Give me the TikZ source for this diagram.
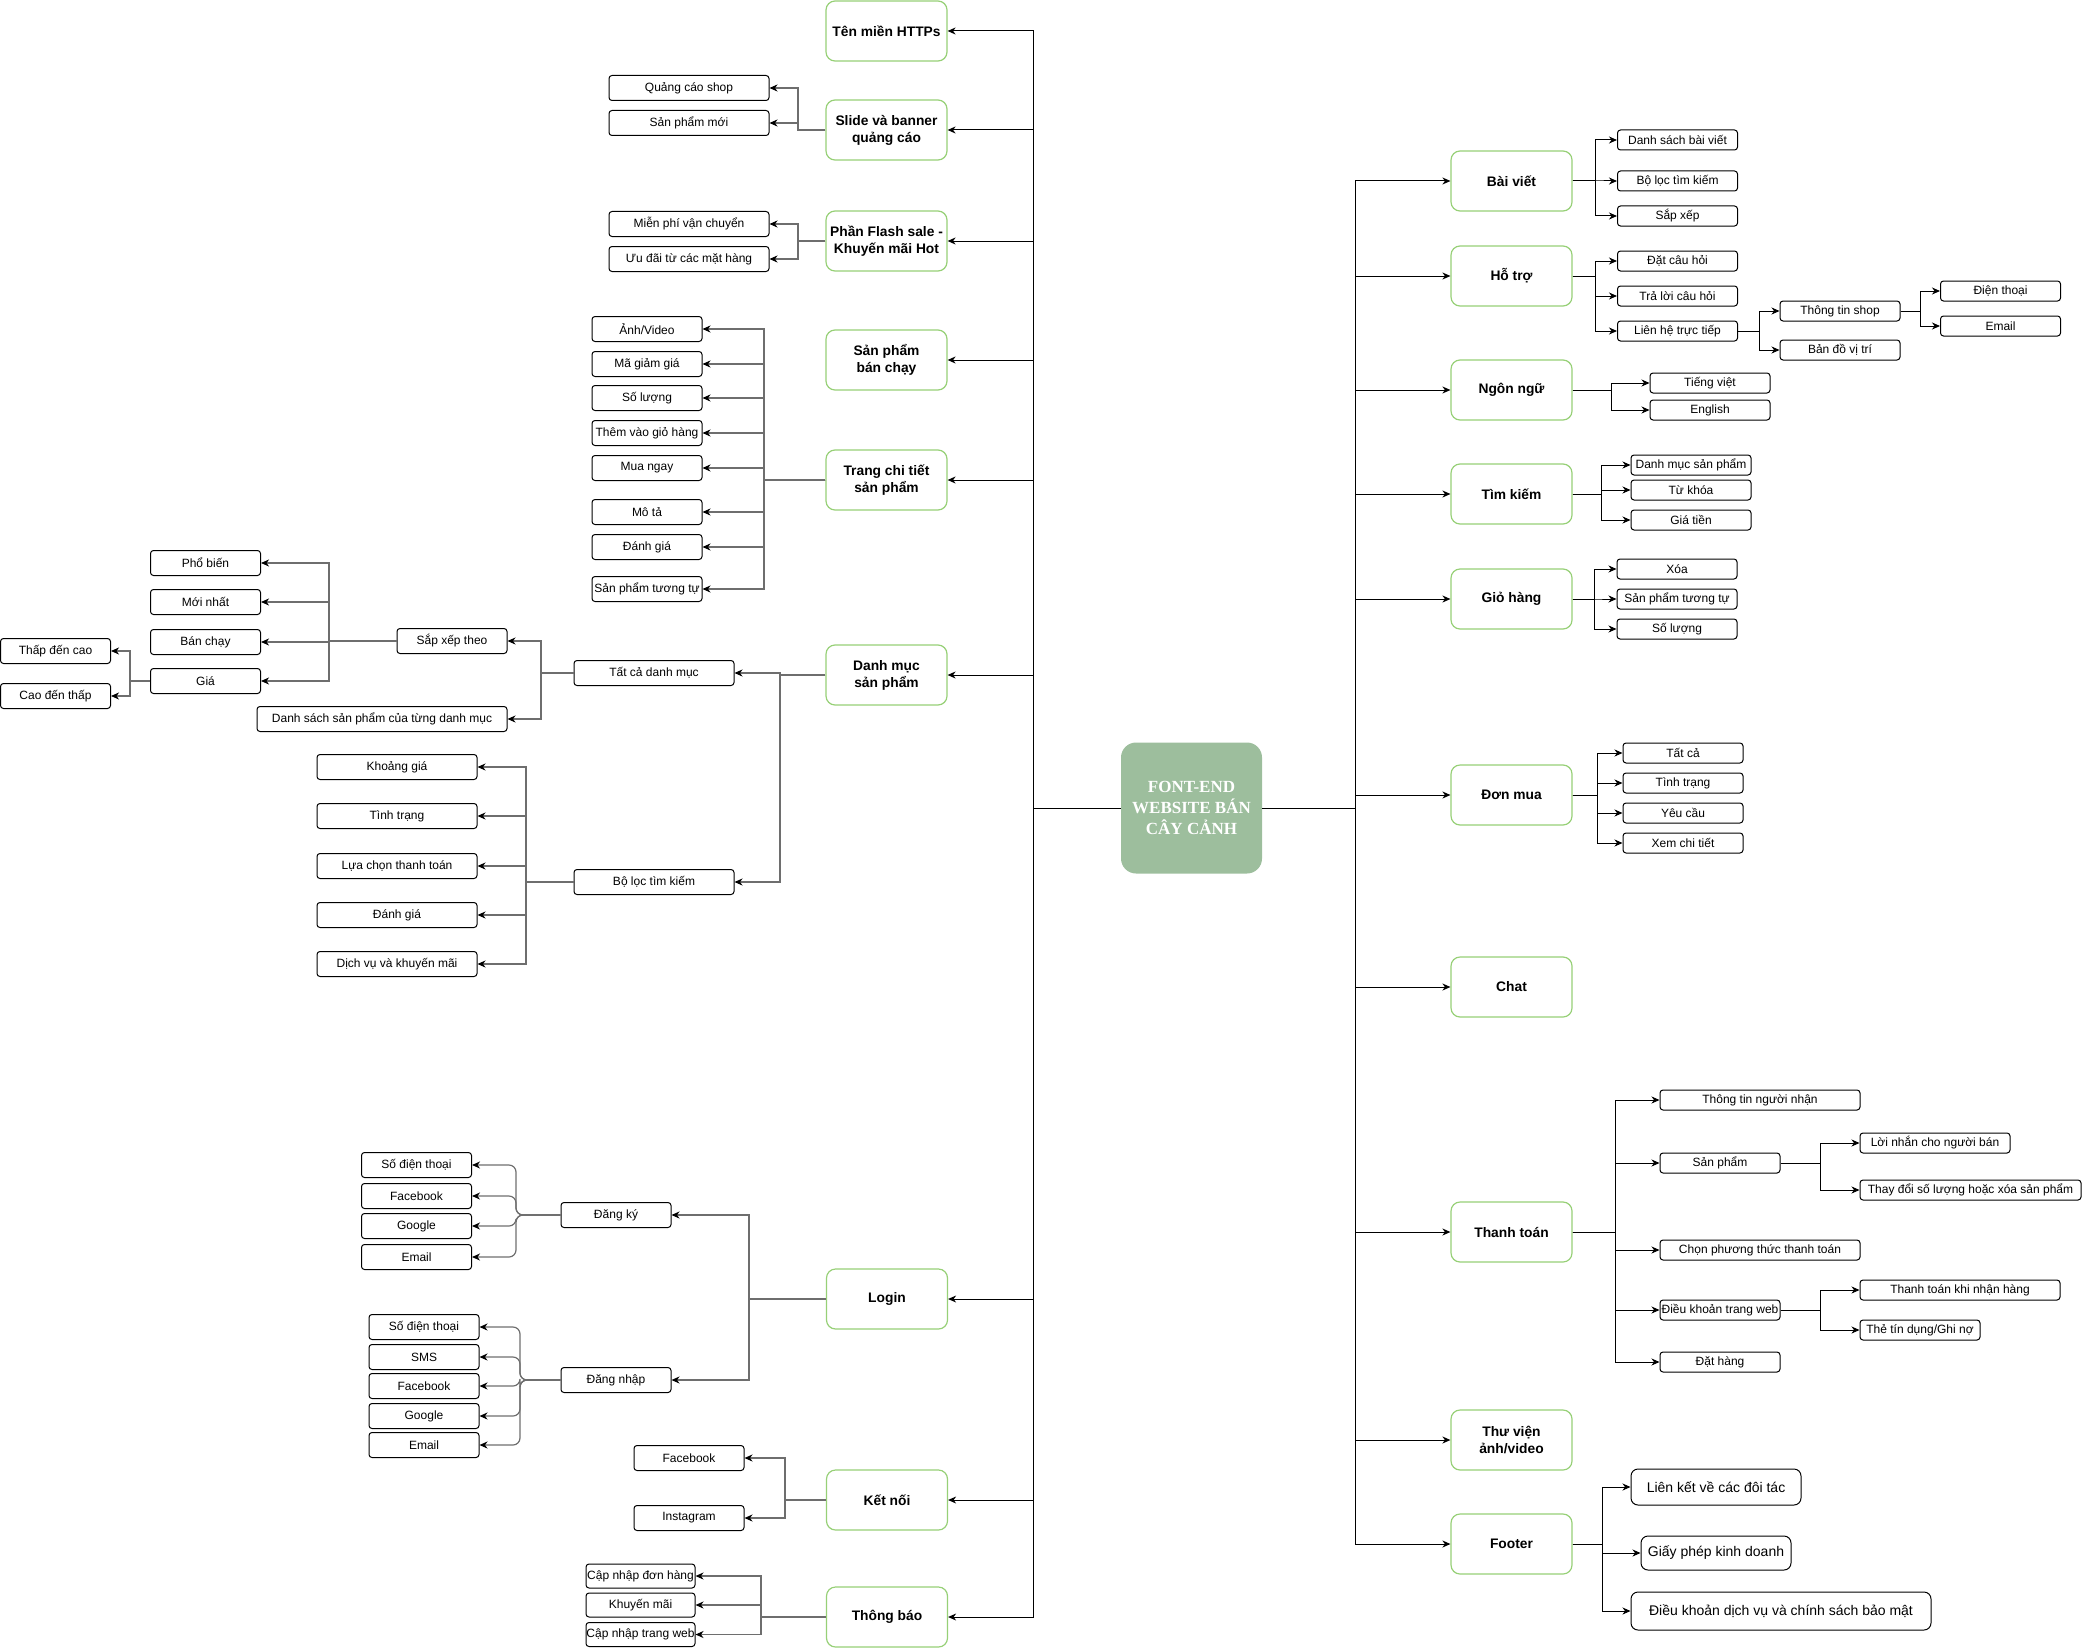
\documentclass[tikz,border=0pt]{standalone}
\usepackage{fontspec}
\setmainfont{Liberation Sans}
\newfontfamily\rootfont{Liberation Serif}
\usetikzlibrary{arrows.meta}
\definecolor{hdrgreen}{HTML}{97D077}
\definecolor{rootfill}{HTML}{9DBE9D}
\definecolor{edgegrey}{HTML}{6E6E6E}
\tikzset{
 hdr/.style={draw=hdrgreen, line width=1.2pt, rounded corners=9pt, fill=white, minimum width=121pt, minimum height=60pt, inner sep=0pt, align=center, font=\fontsize{13.8}{17}\selectfont\bfseries},
 leaf/.style={draw=black, line width=1pt, rounded corners=3pt, fill=white, minimum height=25pt, inner sep=0pt, font=\fontsize{12}{14}\selectfont},
 rleaf/.style={leaf, minimum height=20pt, minimum width=120pt},
 fleaf/.style={leaf, rounded corners=7pt, font=\fontsize{14}{16}\selectfont},
 rootbox/.style={draw=none, fill=rootfill, rounded corners=15pt, minimum width=141pt, minimum height=131pt, inner sep=0pt, align=center, text=white, font=\rootfont\bfseries\fontsize{17}{21}\selectfont},
 plain/.style={draw=black, line width=1pt},
 arr/.style={draw=black, line width=1pt, -{Stealth[length=8pt,width=7pt,inset=2.5pt]}},
 garr/.style={draw=edgegrey, line width=1.2pt, -{Stealth[length=8pt,width=7pt,inset=2.5pt,color=black]}},
}
\begin{document}
\begin{tikzpicture}[x=1pt,y=-1pt]
\useasboundingbox (0,0) rectangle (2082,1648);

% ---------- root ----------
\node[rootbox] (root) at (1191.5,808) {FONT-END\\WEBSITE BÁN\\CÂY CẢNH};
\coordinate (LT) at (1033,808);
\coordinate (RT) at (1355,808);
\draw[plain] (root.west) -- (LT);
\draw[plain] (root.east) -- (RT);

% ---------- left headers ----------
\node[hdr] (ten)   at (886.5,31)   {Tên miền HTTPs};
\node[hdr] (slide) at (886.5,130)  {Slide và banner\\quảng cáo};
\node[hdr] (flash) at (886.5,241)  {Phần Flash sale -\\Khuyến mãi Hot};
\node[hdr] (spbc)  at (886.5,360)  {Sản phẩm\\bán chạy};
\node[hdr] (tct)   at (886.5,480)  {Trang chi tiết\\sản phẩm};
\node[hdr] (dm)    at (886.5,675)  {Danh mục\\sản phẩm};
\node[hdr] (login) at (887,1299)   {Login};
\node[hdr] (kn)    at (887,1500)   {Kết nối};
\node[hdr] (tbao)  at (887,1617)   {Thông báo};
\foreach \h in {ten,slide,flash,spbc,tct,dm,login,kn,tbao}
  \draw[arr] (LT) |- (\h.east);

% ---------- right headers ----------
\node[hdr] (bv)     at (1511.5,181)  {Bài viết};
\node[hdr] (ht)     at (1511.5,276)  {Hỗ trợ};
\node[hdr] (nn)     at (1511.5,390)  {Ngôn ngữ};
\node[hdr] (timk)   at (1511.5,494)  {Tìm kiếm};
\node[hdr] (gh)     at (1511.5,599)  {Giỏ hàng};
\node[hdr] (dmua)   at (1511.5,795)  {Đơn mua};
\node[hdr] (chat)   at (1511.5,987)  {Chat};
\node[hdr] (ttoan)  at (1511.5,1232) {Thanh toán};
\node[hdr] (tvien)  at (1511.5,1440) {Thư viện\\ảnh/video};
\node[hdr] (footer) at (1511.5,1544) {Footer};
\foreach \h in {bv,ht,nn,timk,gh,dmua,chat,ttoan,tvien,footer}
  \draw[arr] (RT) |- (\h.west);

% ---------- Slide ----------
\node[leaf, minimum width=160pt] (qc)  at (689,88)  {Quảng cáo shop};
\node[leaf, minimum width=160pt] (spm) at (689,123) {Sản phẩm mới};
\coordinate (jslide) at (798,130);
\foreach \c in {qc,spm} \draw[garr] (slide.west) -- (jslide) |- (\c.east);

% ---------- Flash sale ----------
\node[leaf, minimum width=160pt] (mp) at (689,224) {Miễn phí vận chuyển};
\node[leaf, minimum width=160pt] (ud) at (689,259) {Ưu đãi từ các mặt hàng};
\coordinate (jflash) at (798,241);
\foreach \c in {mp,ud} \draw[garr] (flash.west) -- (jflash) |- (\c.east);

% ---------- Trang chi tiet ----------
\node[leaf, minimum width=110pt] (av)   at (647,329) {Ảnh/Video};
\node[leaf, minimum width=110pt] (mg)   at (647,364) {Mã giảm giá};
\node[leaf, minimum width=110pt] (sl)   at (647,398) {Số lượng};
\node[leaf, minimum width=110pt] (tvg)  at (647,433) {Thêm vào giỏ hàng};
\node[leaf, minimum width=110pt] (mn)   at (647,468) {Mua ngay};
\node[leaf, minimum width=110pt] (mt)   at (647,512) {Mô tả};
\node[leaf, minimum width=110pt] (dg)   at (647,547) {Đánh giá};
\node[leaf, minimum width=110pt] (sptt) at (647,589) {Sản phẩm tương tự};
\coordinate (jtct) at (764,480);
\foreach \c in {av,mg,sl,tvg,mn,mt,dg,sptt} \draw[garr] (tct.west) -- (jtct) |- (\c.east);

% ---------- Danh muc ----------
\node[leaf, minimum width=160pt] (tc) at (654,673) {Tất cả danh mục};
\node[leaf, minimum width=160pt] (bl) at (654,882) {Bộ lọc tìm kiếm};
\coordinate (jdm) at (780,675);
\foreach \c in {tc,bl} \draw[garr] (dm.west) -- (jdm) |- (\c.east);

\node[leaf, minimum width=110pt] (sx) at (452,641) {Sắp xếp theo};
\node[leaf, minimum width=250pt] (ds) at (382,719) {Danh sách sản phẩm của từng danh mục};
\coordinate (jtc) at (541,673);
\foreach \c in {sx,ds} \draw[garr] (tc.west) -- (jtc) |- (\c.east);

\node[leaf, minimum width=110pt] (pb)  at (205.5,563) {Phổ biến};
\node[leaf, minimum width=110pt] (mnh) at (205.5,602) {Mới nhất};
\node[leaf, minimum width=110pt] (bc)  at (205.5,642) {Bán chạy};
\node[leaf, minimum width=110pt] (gia) at (205.5,681) {Giá};
\coordinate (jsx) at (329,641);
\foreach \c in {pb,mnh,bc,gia} \draw[garr] (sx.west) -- (jsx) |- (\c.east);

\node[leaf, minimum width=110pt] (tdc) at (55.5,651) {Thấp đến cao};
\node[leaf, minimum width=110pt] (cdt) at (55.5,696) {Cao đến thấp};
\coordinate (jgia) at (130,681);
\foreach \c in {tdc,cdt} \draw[garr] (gia.west) -- (jgia) |- (\c.east);

\node[leaf, minimum width=160pt] (kg)  at (397,767) {Khoảng giá};
\node[leaf, minimum width=160pt] (ttr) at (397,816) {Tình trạng};
\node[leaf, minimum width=160pt] (lc)  at (397,866) {Lựa chọn thanh toán};
\node[leaf, minimum width=160pt] (dgb) at (397,915) {Đánh giá};
\node[leaf, minimum width=160pt] (dv)  at (397,964) {Dịch vụ và khuyến mãi};
\coordinate (jbl) at (526,882);
\foreach \c in {kg,ttr,lc,dgb,dv} \draw[garr] (bl.west) -- (jbl) |- (\c.east);

% ---------- Login ----------
\node[leaf, minimum width=110pt] (dk) at (616,1215) {Đăng ký};
\node[leaf, minimum width=110pt] (dn) at (616,1380) {Đăng nhập};
\coordinate (jlogin) at (749,1299);
\foreach \c in {dk,dn} \draw[garr] (login.west) -- (jlogin) |- (\c.east);

\node[leaf, minimum width=110pt] (dka) at (416.5,1165) {Số điện thoại};
\node[leaf, minimum width=110pt] (dkb) at (416.5,1196) {Facebook};
\node[leaf, minimum width=110pt] (dkc) at (416.5,1226) {Google};
\node[leaf, minimum width=110pt] (dkd) at (416.5,1257) {Email};
\coordinate (jdk) at (516,1215);
\foreach \c in {dka,dkb,dkc,dkd} \draw[garr, rounded corners=7pt] (dk.west) -- (jdk) |- (\c.east);

\node[leaf, minimum width=110pt] (dna) at (424,1327) {Số điện thoại};
\node[leaf, minimum width=110pt] (dnb) at (424,1357) {SMS};
\node[leaf, minimum width=110pt] (dnc) at (424,1386) {Facebook};
\node[leaf, minimum width=110pt] (dnd) at (424,1416) {Google};
\node[leaf, minimum width=110pt] (dne) at (424,1445) {Email};
\coordinate (jdn) at (520,1380);
\foreach \c in {dna,dnb,dnc,dnd,dne} \draw[garr, rounded corners=7pt] (dn.west) -- (jdn) |- (\c.east);

% ---------- Ket noi ----------
\node[leaf, minimum width=110pt] (fb) at (689,1458) {Facebook};
\node[leaf, minimum width=110pt] (ig) at (689,1518) {Instagram};
\coordinate (jkn) at (785,1500);
\foreach \c in {fb,ig} \draw[garr] (kn.west) -- (jkn) |- (\c.east);

% ---------- Thong bao ----------
\node[leaf, minimum width=109pt, minimum height=24pt] (tba) at (640.5,1576) {Cập nhập đơn hàng};
\node[leaf, minimum width=109pt, minimum height=24pt] (tbb) at (640.5,1605) {Khuyến mãi};
\node[leaf, minimum width=109pt, minimum height=24pt] (tbc) at (640.5,1634.5) {Cập nhập trang web};
\coordinate (jtb) at (761,1617);
\foreach \c in {tba,tbb,tbc} \draw[garr] (tbao.west) -- (jtb) |- (\c.east);

% ---------- Bai viet ----------
\node[rleaf] (bva) at (1677.5,140) {Danh sách bài viết};
\node[rleaf] (bvb) at (1677.5,181) {Bộ lọc tìm kiếm};
\node[rleaf] (bvc) at (1677.5,216) {Sắp xếp};
\coordinate (jbv) at (1595,181);
\foreach \c in {bva,bvb,bvc} \draw[arr] (bv.east) -- (jbv) |- (\c.west);

% ---------- Ho tro ----------
\node[rleaf] (hta) at (1677.5,261) {Đặt câu hỏi};
\node[rleaf] (htb) at (1677.5,296) {Trả lời câu hỏi};
\node[rleaf] (htc) at (1677.5,331) {Liên hệ trực tiếp};
\coordinate (jht) at (1595,276);
\foreach \c in {hta,htb,htc} \draw[arr] (ht.east) -- (jht) |- (\c.west);

\node[rleaf] (ts) at (1840,311) {Thông tin shop};
\node[rleaf] (bd) at (1840,350) {Bản đồ vị trí};
\coordinate (jlh) at (1759,331);
\foreach \c in {ts,bd} \draw[arr] (htc.east) -- (jlh) |- (\c.west);

\node[rleaf] (dt)  at (2000.5,291) {Điện thoại};
\node[rleaf] (eml) at (2000.5,326) {Email};
\coordinate (jts) at (1920,311);
\foreach \c in {dt,eml} \draw[arr] (ts.east) -- (jts) |- (\c.west);

% ---------- Ngon ngu ----------
\node[rleaf] (tviet) at (1710,383) {Tiếng việt};
\node[rleaf] (eng)   at (1710,410) {English};
\coordinate (jnn) at (1611,390);
\foreach \c in {tviet,eng} \draw[arr] (nn.east) -- (jnn) |- (\c.west);

% ---------- Tim kiem ----------
\node[rleaf] (tka) at (1691,465) {Danh mục sản phẩm};
\node[rleaf] (tkb) at (1691,490) {Từ khóa};
\node[rleaf] (tkc) at (1691,520) {Giá tiền};
\coordinate (jtk) at (1601,494);
\foreach \c in {tka,tkb,tkc} \draw[arr] (timk.east) -- (jtk) |- (\c.west);

% ---------- Gio hang ----------
\node[rleaf] (gha) at (1677,569) {Xóa};
\node[rleaf] (ghb) at (1677,599) {Sản phẩm tương tự};
\node[rleaf] (ghc) at (1677,629) {Số lượng};
\coordinate (jgh) at (1594,599);
\foreach \c in {gha,ghb,ghc} \draw[arr] (gh.east) -- (jgh) |- (\c.west);

% ---------- Don mua ----------
\node[rleaf] (dma) at (1683,753) {Tất cả};
\node[rleaf] (dmb) at (1683,783) {Tình trạng};
\node[rleaf] (dmc) at (1683,813) {Yêu cầu};
\node[rleaf] (dmd) at (1683,843) {Xem chi tiết};
\coordinate (jdmua) at (1597,795);
\foreach \c in {dma,dmb,dmc,dmd} \draw[arr] (dmua.east) -- (jdmua) |- (\c.west);

% ---------- Thanh toan ----------
\node[rleaf, minimum width=200pt] (tta) at (1760,1100) {Thông tin người nhận};
\node[rleaf]                      (ttb) at (1720,1163) {Sản phẩm};
\node[rleaf, minimum width=200pt] (ttc) at (1760,1250) {Chọn phương thức thanh toán};
\node[rleaf]                      (ttd) at (1720,1310) {Điều khoản trang web};
\node[rleaf]                      (tte) at (1720,1362) {Đặt hàng};
\coordinate (jtt) at (1615,1232);
\foreach \c in {tta,ttb,ttc,ttd,tte} \draw[arr] (ttoan.east) -- (jtt) |- (\c.west);

\node[rleaf, minimum width=150pt] (lnb) at (1935,1143) {Lời nhắn cho người bán};
\node[rleaf, minimum width=221pt] (tdsl) at (1970.5,1190) {Thay đổi số lượng hoặc xóa sản phẩm};
\coordinate (jsp) at (1820,1163);
\foreach \c in {lnb,tdsl} \draw[arr] (ttb.east) -- (jsp) |- (\c.west);

\node[rleaf, minimum width=200pt] (ttnh) at (1960,1290) {Thanh toán khi nhận hàng};
\node[rleaf]                      (ttd2) at (1920,1330) {Thẻ tín dụng/Ghi nợ};
\coordinate (jdk2) at (1820,1310);
\foreach \c in {ttnh,ttd2} \draw[arr] (ttd.east) -- (jdk2) |- (\c.west);

% ---------- Footer ----------
\node[fleaf, minimum width=170pt, minimum height=36pt] (fa) at (1716,1487) {Liên kết về các đôi tác};
\node[fleaf, minimum width=150pt, minimum height=34pt] (fbk) at (1716,1553) {Giấy phép kinh doanh};
\node[fleaf, minimum width=300pt, minimum height=38pt] (fc) at (1781,1611) {Điều khoản dịch vụ và chính sách bảo mật};
\coordinate (jft) at (1602,1544);
\foreach \c in {fa,fbk,fc} \draw[arr] (footer.east) -- (jft) |- (\c.west);

\end{tikzpicture}
\end{document}
